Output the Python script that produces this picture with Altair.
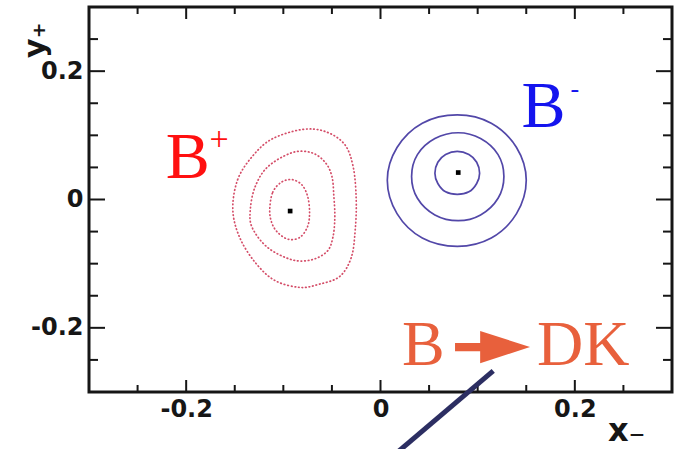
import altair as alt
import pandas as pd

# ---- axes -------------------------------------------------------------
X_DOMAIN = [-0.3, 0.3]
Y_DOMAIN = [-0.3, 0.3]
major_ticks = [-0.2, 0.0, 0.2]
minor_ticks = [-0.25, -0.15, -0.1, -0.05, 0.05, 0.1, 0.15, 0.25]

# ---- B+ likelihood contours (x-, y+ plane), dotted red ----------------
bplus_outer_x = [-0.152, -0.147, -0.132, -0.112, -0.081, -0.057, -0.037, -0.028, -0.025,
                 -0.026, -0.030, -0.042, -0.063, -0.083, -0.109, -0.129, -0.145]
bplus_outer_y = [-0.016, 0.031, 0.067, 0.094, 0.109, 0.106, 0.086, 0.050, 0.000,
                 -0.047, -0.090, -0.120, -0.132, -0.137, -0.126, -0.098, -0.059]
bplus_mid_x = [-0.134, -0.129, -0.116, -0.091, -0.071, -0.057, -0.050, -0.048,
               -0.047, -0.049, -0.055, -0.071, -0.091, -0.116, -0.132]
bplus_mid_y = [-0.016, 0.020, 0.051, 0.073, 0.073, 0.058, 0.036, 0.005,
               -0.028, -0.059, -0.081, -0.094, -0.094, -0.075, -0.044]
bplus_inner_x = [-0.114, -0.111, -0.102, -0.091, -0.081, -0.075,
                 -0.073, -0.075, -0.083, -0.095, -0.106, -0.112]
bplus_inner_y = [-0.016, 0.011, 0.027, 0.031, 0.023, 0.005,
                 -0.020, -0.042, -0.059, -0.062, -0.051, -0.036]

# ---- B- likelihood contours, solid blue -------------------------------
bminus_outer_x = [0.150, 0.140, 0.114, 0.079, 0.043, 0.017,
                  0.007, 0.017, 0.043, 0.079, 0.114, 0.140]
bminus_outer_y = [0.030, 0.081, 0.119, 0.132, 0.119, 0.081,
                  0.030, -0.022, -0.060, -0.073, -0.060, -0.022]
bminus_mid_x = [0.127, 0.121, 0.103, 0.080, 0.056, 0.038,
                0.032, 0.038, 0.056, 0.080, 0.103, 0.121]
bminus_mid_y = [0.036, 0.070, 0.095, 0.104, 0.095, 0.070,
                0.036, 0.002, -0.024, -0.033, -0.024, 0.002]
bminus_inner_x = [0.102, 0.099, 0.091, 0.079, 0.067, 0.059,
                  0.056, 0.059, 0.067, 0.079, 0.091, 0.099]
bminus_inner_y = [0.041, 0.058, 0.070, 0.075, 0.070, 0.058,
                  0.041, 0.025, 0.012, 0.008, 0.012, 0.025]

# best-fit points
best_x = [-0.093, 0.080]
best_y = [-0.018, 0.042]

# annotation line (pointer) end points
pointer_x = [0.015, 0.116]
pointer_y = [-0.397, -0.267]

W, H = 583, 385
RED_DOT = "#cf3a58"
BLUE = "#5247a8"
ORANGE = "#e8603c"
INK = "#161616"


def contour_frame(name, xs, ys):
    return pd.DataFrame({"contour": name, "x": xs, "y": ys, "k": range(len(xs))})


bplus = pd.concat([
    contour_frame("p1", bplus_inner_x, bplus_inner_y),
    contour_frame("p2", bplus_mid_x, bplus_mid_y),
    contour_frame("p3", bplus_outer_x, bplus_outer_y),
])
bminus = pd.concat([
    contour_frame("m1", bminus_inner_x, bminus_inner_y),
    contour_frame("m2", bminus_mid_x, bminus_mid_y),
    contour_frame("m3", bminus_outer_x, bminus_outer_y),
])

LABEL_EXPR = ("datum.value == 0 ? '0' : (datum.value < 0 ? '-' + format(-datum.value, '.1f')"
              " : format(datum.value, '.1f'))")

x_axis = alt.Axis(
    values=major_ticks, grid=False, ticks=False, tickSize=0, domain=False,
    labelExpr=LABEL_EXPR,
    labelFont="DejaVu Sans", labelFontWeight="bold", labelFontSize=24, labelColor=INK,
    labelPadding=5,
    title="x\u208b", titleFont="DejaVu Sans", titleFontWeight="bold", titleFontSize=32,
    titleColor=INK, titleAlign="right", titleBaseline="alphabetic", titleAnchor="start",
    titleX=556, titleY=48,
)
y_axis = alt.Axis(
    values=major_ticks, grid=False, ticks=False, tickSize=0, domain=False,
    labelExpr=LABEL_EXPR,
    labelFont="DejaVu Sans", labelFontWeight="bold", labelFontSize=24, labelColor=INK,
    labelPadding=6,
    title="y\u208a", titleFont="DejaVu Sans", titleFontWeight="bold", titleFontSize=30,
    titleColor=INK, titleAngle=270, titleAlign="right", titleBaseline="alphabetic",
    titleAnchor="start", titleX=-45, titleY=15,
)
xs = alt.Scale(domain=X_DOMAIN, nice=False, zero=False)
ys = alt.Scale(domain=Y_DOMAIN, nice=False, zero=False)


def X(field):
    return alt.X(f"{field}:Q", scale=xs, axis=x_axis)


def Y(field):
    return alt.Y(f"{field}:Q", scale=ys, axis=y_axis)


layers = []

# inward tick marks on all four sides
for vals, long_len in ((major_ticks, 16), (minor_ticks, 9)):
    tdf = pd.DataFrame({"v": vals})
    layers.append(alt.Chart(tdf).mark_rule(color=INK, strokeWidth=2).encode(
        y=Y("v"), x=alt.value(0), x2=alt.value(long_len)))
    layers.append(alt.Chart(tdf).mark_rule(color=INK, strokeWidth=2).encode(
        y=Y("v"), x=alt.value(W), x2=alt.value(W - long_len)))
for vals, long_len in ((major_ticks, 12), (minor_ticks, 7)):
    tdf = pd.DataFrame({"v": vals})
    layers.append(alt.Chart(tdf).mark_rule(color=INK, strokeWidth=2).encode(
        x=X("v"), y=alt.value(0), y2=alt.value(long_len)))
    layers.append(alt.Chart(tdf).mark_rule(color=INK, strokeWidth=2).encode(
        x=X("v"), y=alt.value(H), y2=alt.value(H - long_len)))

# contours
layers.append(alt.Chart(bplus).mark_line(
    interpolate="cardinal-closed", color=RED_DOT, strokeWidth=1.7,
    strokeDash=[0.6, 3.0], strokeCap="round", opacity=0.9).encode(
    x=X("x"), y=Y("y"), detail="contour:N", order="k:Q"))
layers.append(alt.Chart(bminus).mark_line(
    interpolate="cardinal-closed", color=BLUE, strokeWidth=1.7).encode(
    x=X("x"), y=Y("y"), detail="contour:N", order="k:Q"))

# best-fit points
layers.append(alt.Chart(pd.DataFrame({"x": best_x, "y": best_y})).mark_square(
    size=22, color="black", opacity=1).encode(x=X("x"), y=Y("y")))


def text_layer(txt, x, y, **mark):
    df = pd.DataFrame({"t": [txt], "x": [x], "y": [y]})
    return alt.Chart(df).mark_text(**mark).encode(x=X("x"), y=Y("y"), text="t:N")


serif = dict(font="Liberation Serif", align="left", baseline="alphabetic")
layers.append(text_layer("B", -0.221, 0.034, fontSize=66, color="#ff1010", **serif))
layers.append(text_layer("+", -0.166, 0.093, fontSize=34, color="#ff1010",
                         font="Liberation Serif", align="center", baseline="middle"))
layers.append(text_layer("B", 0.145, 0.113, fontSize=66, color="#1414ee", **serif))
layers.append(text_layer("-", 0.200, 0.172, fontSize=26, color="#1414ee",
                         font="Liberation Serif", align="center", baseline="middle"))
layers.append(text_layer("B", 0.022, -0.258, fontSize=64, color=ORANGE, **serif))
layers.append(text_layer("DK", 0.161, -0.258, fontSize=64, color=ORANGE, **serif))

# block arrow between B and DK
ARROW = "M-1,-0.11 L-0.33,-0.11 L-0.33,-0.43 L1,0 L-0.33,0.43 L-0.33,0.11 L-1,0.11 Z"
layers.append(alt.Chart(pd.DataFrame({"x": [0.1153], "y": [-0.2299]})).mark_point(
    shape=ARROW, filled=True, size=5625, color=ORANGE, opacity=1, strokeWidth=0).encode(
    x=X("x"), y=Y("y")))

# pointer line running off the bottom edge
layers.append(alt.Chart(pd.DataFrame({"x": pointer_x, "y": pointer_y})).mark_line(
    color="#2c2e62", strokeWidth=5, strokeCap="butt").encode(x=X("x"), y=Y("y")))

chart = alt.layer(*layers).properties(
    width=W, height=H,
    autosize=alt.AutoSizeParams(type="none"),
    padding={"left": 89, "top": 7, "right": 5, "bottom": 57},
    background="white",
).configure_view(stroke=INK, strokeWidth=3)

chart.save("out.html", embed_options={"renderer": "svg", "actions": False})
